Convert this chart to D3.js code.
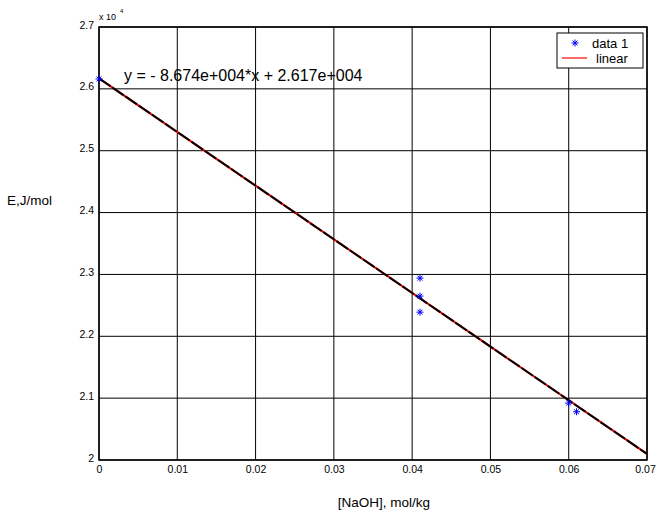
<!DOCTYPE html>
<html>
<head>
<meta charset="utf-8">
<script src="https://d3js.org/d3.v7.min.js"></script>
<style>
  body { margin: 0; background: #fff; }
  svg { font-family: "Liberation Sans", Arial, sans-serif; }
</style>
</head>
<body>
<div id="chart"></div>
<script>
// data (y in units of 1e4 J/mol)
var naoh = [0, 0.041, 0.041, 0.041, 0.060, 0.061];
var energy = [2.616, 2.294, 2.265, 2.239, 2.092, 2.078];
var xTicks = [0, 0.01, 0.02, 0.03, 0.04, 0.05, 0.06, 0.07];
var yTicks = [2, 2.1, 2.2, 2.3, 2.4, 2.5, 2.6, 2.7];
var slope = -8.674e4, intercept = 2.617e4;

var W = 657, H = 512;
var margin = {top: 27, right: 10, bottom: 52, left: 99};
var width = W - margin.left - margin.right,
    height = H - margin.top - margin.bottom;

var svg = d3.select("#chart").append("svg")
    .attr("width", W).attr("height", H);
var g = svg.append("g")
    .attr("transform", "translate(" + margin.left + "," + margin.top + ")");

var x = d3.scaleLinear().domain([0, 0.07]).range([0, width]);
var y = d3.scaleLinear().domain([2, 2.7]).range([height, 0]);

// grid
g.selectAll(".vgrid").data(xTicks).enter().append("line")
    .attr("x1", d => x(d)).attr("x2", d => x(d))
    .attr("y1", 0).attr("y2", height)
    .attr("stroke", "#000").attr("stroke-width", 1);
g.selectAll(".hgrid").data(yTicks).enter().append("line")
    .attr("x1", 0).attr("x2", width)
    .attr("y1", d => y(d)).attr("y2", d => y(d))
    .attr("stroke", "#000").attr("stroke-width", 1);

// axes
var xAxis = g.append("g")
    .attr("transform", "translate(0," + height + ")")
    .call(d3.axisBottom(x).tickValues(xTicks).tickSize(0).tickPadding(9)
      .tickFormat(d => d === 0 ? "0" : d3.format(".2f")(d)));
var yAxis = g.append("g")
    .call(d3.axisLeft(y).tickValues(yTicks).tickSize(0).tickPadding(5)
      .tickFormat(d => d3.format("")(+d.toFixed(1))));
[xAxis, yAxis].forEach(function(a) {
  a.select(".domain").remove();
  a.selectAll("text").attr("font-size", 10.5).attr("fill", "#000")
    .attr("font-family", "Liberation Sans, Arial, sans-serif");
});
xAxis.selectAll("text").attr("dy", "0.4em");
xAxis.selectAll(".tick:last-of-type text").attr("dx", -2);
yAxis.selectAll("text").attr("dy", "0.1em");

// frame
g.append("rect").attr("width", width).attr("height", height)
    .attr("fill", "none").attr("stroke", "#000").attr("stroke-width", 1.5);

// fit lines
var fit = function(v) { return (slope * v + intercept) / 1e4; };
var xs = [0, 0.07];
var line = d3.line().x(d => x(d)).y(d => y(fit(d)));
g.append("path").datum(xs).attr("d", line)
    .attr("stroke", "red").attr("stroke-width", 2).attr("fill", "none");
g.append("path").datum(xs).attr("d", line)
    .attr("stroke", "#000").attr("stroke-width", 2).attr("fill", "none")
    .attr("stroke-dasharray", "14,2");

// star markers
function star(sel, cx, cy, r) {
  var p = "M" + (cx - r) + "," + cy + "H" + (cx + r) +
          "M" + cx + "," + (cy - r) + "V" + (cy + r) +
          "M" + (cx - r * 0.7) + "," + (cy - r * 0.7) + "L" + (cx + r * 0.7) + "," + (cy + r * 0.7) +
          "M" + (cx - r * 0.7) + "," + (cy + r * 0.7) + "L" + (cx + r * 0.7) + "," + (cy - r * 0.7);
  sel.append("path").attr("d", p).attr("stroke", "blue").attr("stroke-width", 1).attr("fill", "none");
}
naoh.forEach(function(v, i) { star(g, x(v), y(energy[i]), 3.5); });

// equation
g.append("text").attr("x", 25).attr("y", 54)
    .attr("font-size", 16).text("y = - 8.674e+004*x + 2.617e+004");

// exponent label
svg.append("text").attr("x", 99).attr("y", 20).attr("font-size", 9).text("x 10");
svg.append("text").attr("x", 120).attr("y", 13).attr("font-size", 6).text("4");

// legend
var lg = svg.append("g").attr("transform", "translate(557,33)");
lg.append("rect").attr("width", 86).attr("height", 35)
    .attr("fill", "#fff").attr("stroke", "#000").attr("stroke-width", 1);
star(lg, 18, 10, 3.5);
lg.append("text").attr("x", 35).attr("y", 15).attr("font-size", 13).text("data 1");
lg.append("line").attr("x1", 5).attr("x2", 30).attr("y1", 25).attr("y2", 25)
    .attr("stroke", "red").attr("stroke-width", 1.2);
lg.append("text").attr("x", 39).attr("y", 30).attr("font-size", 13).text("linear");

// axis titles
svg.append("text").attr("x", 7).attr("y", 205).attr("font-size", 13.5).text("E,J/mol");
svg.append("text").attr("x", 384).attr("y", 507).attr("font-size", 13.5)
    .attr("text-anchor", "middle").text("[NaOH], mol/kg");
</script>
</body>
</html>
